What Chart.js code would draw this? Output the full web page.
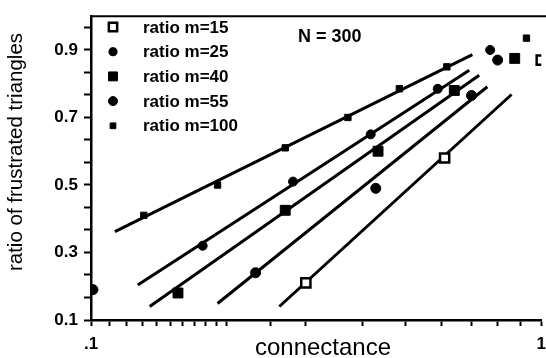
<!DOCTYPE html>
<html>
<head>
<meta charset="utf-8">
<script src="https://cdn.jsdelivr.net/npm/chart.js@4.4.1/dist/chart.umd.min.js"></script>
<style>
body { margin: 0; overflow: hidden; background: #fff; }
#wrap { position: relative; width: 554px; height: 358px; }
</style>
</head>
<body>
<div id="wrap"><canvas id="grafica"></canvas></div>
<script>
// valores (N = 300)
var etiquetas = ['ratio m=15', 'ratio m=25', 'ratio m=40', 'ratio m=55', 'ratio m=100'];

var conM15 = [0.30, 0.61, 1.0];
var ratM15 = [0.21, 0.58, 0.87];
var conM25 = [0.177, 0.281, 0.418, 0.589, 0.77];
var ratM25 = [0.32, 0.51, 0.65, 0.785, 0.90];
var conM40 = [0.156, 0.27, 0.434, 0.641, 0.873];
var ratM40 = [0.18, 0.425, 0.60, 0.78, 0.875];
var conM55 = [0.101, 0.232, 0.429, 0.70, 0.80];
var ratM55 = [0.19, 0.24, 0.49, 0.765, 0.87];
var conM100 = [0.131, 0.191, 0.27, 0.372, 0.484, 0.617, 0.927];
var ratM100 = [0.41, 0.50, 0.61, 0.70, 0.785, 0.85, 0.935];

// rectas ajustadas (extremos)
var rectaM15X = [0.262, 0.859], rectaM15Y = [0.14, 0.768];
var rectaM25X = [0.127, 0.692], rectaM25Y = [0.204, 0.84];
var rectaM40X = [0.135, 0.728], rectaM40Y = [0.14, 0.825];
var rectaM55X = [0.191, 0.759], rectaM55Y = [0.149, 0.791];
var rectaM100X = [0.113, 0.703], rectaM100Y = [0.362, 0.886];

var yMayores = [0.1, 0.3, 0.5, 0.7, 0.9];
var xEtiquetas = { 0.1: '.1', 1: '1' };

var fuente = '"Liberation Sans", Arial, Helvetica, sans-serif';

function pares(xs, ys) {
    return xs.map(function (x, i) { return { x: x, y: ys[i] }; });
}

function recta(xs, ys) {
    return {
        data: pares(xs, ys), showLine: true, borderColor: '#000', borderWidth: 3,
        pointRadius: 0, fill: false
    };
}

var estilos = [
    { pointStyle: 'rect', radius: 6.5, bg: '#fff', borderWidth: 2.5 },
    { pointStyle: 'circle', radius: 4.5, bg: '#000', borderWidth: 1 },
    { pointStyle: 'rect', radius: 7, bg: '#000', borderWidth: 1 },
    { pointStyle: 'circle', radius: 5, bg: '#000', borderWidth: 1 },
    { pointStyle: 'rect', radius: 4.5, bg: '#000', borderWidth: 1 }
];

var puntos = [[conM15, ratM15], [conM25, ratM25], [conM40, ratM40], [conM55, ratM55], [conM100, ratM100]];

var datasets = [];
for (let i = 0; i < puntos.length; i++) {
    datasets.push({
        label: etiquetas[i],
        data: pares(puntos[i][0], puntos[i][1]),
        pointStyle: estilos[i].pointStyle,
        pointRadius: estilos[i].radius,
        pointBackgroundColor: estilos[i].bg,
        pointBorderColor: '#000',
        pointBorderWidth: estilos[i].borderWidth,
        showLine: false
    });
}
datasets.push(recta(rectaM15X, rectaM15Y));
datasets.push(recta(rectaM25X, rectaM25Y));
datasets.push(recta(rectaM40X, rectaM40Y));
datasets.push(recta(rectaM55X, rectaM55Y));
datasets.push(recta(rectaM100X, rectaM100Y));

var extras = {
    id: 'extras',
    afterDraw: function (chart) {
        var ctx = chart.ctx;
        var area = chart.chartArea;
        ctx.save();
        // marco superior
        ctx.strokeStyle = '#000';
        ctx.lineWidth = 2;
        ctx.beginPath();
        ctx.moveTo(area.left, area.top);
        ctx.lineTo(area.right + 10, area.top);
        ctx.stroke();

        // leyenda
        ctx.font = 'bold 17px ' + fuente;
        ctx.textBaseline = 'middle';
        ctx.textAlign = 'left';
        for (let i = 0; i < etiquetas.length; i++) {
            var y = 27 + i * 24.7;
            var e = estilos[i];
            ctx.fillStyle = e.bg;
            ctx.strokeStyle = '#000';
            ctx.lineWidth = e.borderWidth;
            Chart.helpers.drawPoint(ctx, { pointStyle: e.pointStyle, radius: e.radius * 0.9, borderWidth: e.borderWidth, rotation: 0 }, 113, y);
            ctx.fillStyle = '#000';
            ctx.fillText(etiquetas[i], 143, y + 1);
        }

        ctx.textBaseline = 'alphabetic';
        ctx.font = 'bold 18px ' + fuente;
        ctx.fillText('N = 300', 298, 42);

        // titulos de ejes
        ctx.font = '24px ' + fuente;
        ctx.textAlign = 'center';
        ctx.fillText('connectance', 323, 355);

        ctx.save();
        ctx.translate(22, 152);
        ctx.rotate(-Math.PI / 2);
        ctx.font = '20.5px ' + fuente;
        ctx.fillText('ratio of frustrated triangles', 0, 0);
        ctx.restore();

        ctx.restore();
    }
};

var ctx = document.getElementById('grafica').getContext('2d');
var grafica = new Chart(ctx, {
    type: 'scatter',
    data: { datasets: datasets },
    plugins: [extras],
    options: {
        responsive: true,
        maintainAspectRatio: false,
        animation: false,
        layout: { padding: { top: 7, right: 6, left: 0, bottom: 0 } },
        plugins: {
            legend: { display: false },
            tooltip: { enabled: false }
        },
        scales: {
            x: {
                type: 'logarithmic',
                min: 0.1,
                max: 1,
                afterFit: function (scale) { scale.height = 38; },
                border: { display: true, color: '#000', width: 2.5 },
                grid: { drawOnChartArea: false, color: '#000', tickLength: 6, tickWidth: 2 },
                ticks: {
                    color: '#000',
                    padding: 8,
                    maxRotation: 0,
                    autoSkip: false,
                    font: { family: fuente, size: 17, weight: 'bold' },
                    callback: function (value) {
                        for (var k in xEtiquetas) {
                            if (Math.abs(value - parseFloat(k)) < 1e-6) return xEtiquetas[k];
                        }
                        return '';
                    }
                }
            },
            y: {
                min: 0.1,
                max: 1.0,
                afterFit: function (scale) { scale.width = 91; },
                afterBuildTicks: function (scale) {
                    var t = [];
                    for (let i = 0; i < yMayores.length; i++) {
                        var v = yMayores[i];
                        t.push({ value: v });
                        t.push({ value: v + 0.2 / 3 });
                        t.push({ value: v + 0.4 / 3 });
                    }
                    scale.ticks = t.filter(function (a) { return a.value <= 1.0001; });
                },
                border: { display: true, color: '#000', width: 2.5 },
                grid: { drawOnChartArea: false, color: '#000', tickLength: 7, tickWidth: 2 },
                ticks: {
                    color: '#000',
                    padding: 6,
                    autoSkip: false,
                    font: { family: fuente, size: 17, weight: 'bold' },
                    callback: function (value) {
                        for (let i = 0; i < yMayores.length; i++) {
                            if (Math.abs(value - yMayores[i]) < 1e-6) return yMayores[i].toFixed(1);
                        }
                        return '';
                    }
                }
            }
        }
    }
});
</script>
</body>
</html>
